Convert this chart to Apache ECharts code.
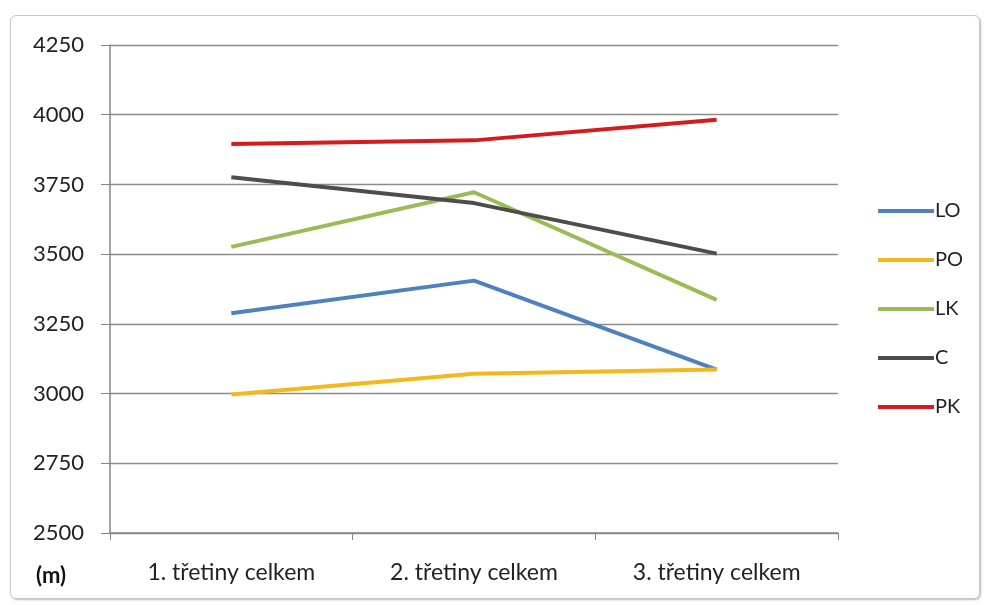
<!DOCTYPE html>
<html>
<head>
<meta charset="utf-8">
<script src="https://cdn.jsdelivr.net/npm/echarts@6/dist/echarts.min.js"></script>
<style>
  html, body { margin: 0; padding: 0; background: #fff; }
  #frame { position: absolute; left: 10px; top: 15px; width: 968px; height: 582px;
           border: 1px solid #c8c8c8; border-radius: 6px; box-shadow: 1px 1px 2px #bbb; }
  #chart { position: absolute; left: 0; top: 0; width: 992px; height: 605px; }
</style>
</head>
<body>
<div id="frame"></div>
<div id="chart"></div>
<script>
const categories = ['1. třetiny celkem', '2. třetiny celkem', '3. třetiny celkem'];
const seriesNames = ['LO', 'PO', 'LK', 'C', 'PK'];
const valuesLO = [3288, 3405, 3086];
const valuesPO = [2997, 3071, 3086];
const valuesLK = [3526, 3722, 3336];
const valuesC  = [3776, 3683, 3502];
const valuesPK = [3895, 3908, 3982];
const seriesColors = ['#4f81bd', '#f2b91e', '#9bbb59', '#4d4d4d', '#d41c1c'];
const yTicks = { min: 2500, max: 4250, step: 250 };

const allValues = [valuesLO, valuesPO, valuesLK, valuesC, valuesPK];
const font = 'Lato, "Open Sans", sans-serif';

const chart = echarts.init(document.getElementById('chart'), null, { renderer: 'canvas' });
chart.setOption({
  animation: false,
  backgroundColor: 'transparent',
  grid: { left: 110, right: 154, top: 45, bottom: 72 },
  legend: {
    orient: 'vertical',
    left: 873, top: 196,
    itemWidth: 56, itemHeight: 4, itemGap: 29,
    icon: 'rect',
    textStyle: { fontFamily: font, fontSize: 20, color: '#222', padding: [0, 0, 0, -4] },
    data: seriesNames
  },
  xAxis: {
    type: 'category',
    data: categories,
    boundaryGap: true,
    axisLine: { lineStyle: { color: '#868686', width: 1.5 } },
    axisTick: { show: true, length: 7, lineStyle: { color: '#868686' } },
    axisLabel: { fontFamily: font, fontSize: 23, color: '#222', margin: 28 }
  },
  yAxis: {
    type: 'value',
    min: yTicks.min, max: yTicks.max, interval: yTicks.step,
    axisLine: { show: true, lineStyle: { color: '#868686', width: 1.5 } },
    axisTick: { show: true, length: 9, lineStyle: { color: '#868686' } },
    splitLine: { lineStyle: { color: '#8c8c8c', width: 1.3 } },
    axisLabel: { fontFamily: font, fontSize: 22, color: '#222', margin: 26,
                 formatter: (v) => String(v) }
  },
  graphic: [{
    type: 'text', left: 36, top: 565,
    style: { text: '(m)', font: 'bold 22px ' + font, fill: '#111' }
  }],
  series: seriesNames.map((name, i) => ({
    name,
    type: 'line',
    data: allValues[i],
    symbol: 'none',
    lineStyle: { width: 4, color: seriesColors[i] },
    itemStyle: { color: seriesColors[i] }
  }))
});
</script>
</body>
</html>
